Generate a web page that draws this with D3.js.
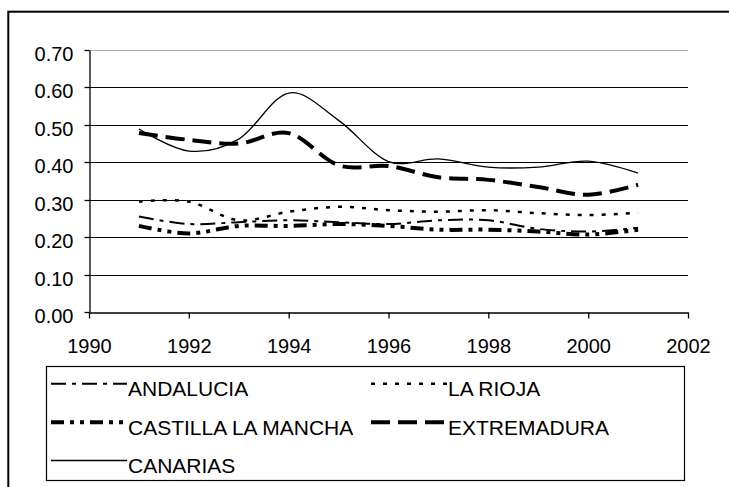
<!DOCTYPE html>
<html>
<head>
<meta charset="utf-8">
<script src="https://cdn.jsdelivr.net/npm/d3@7"></script>
<style>
  html, body { margin: 0; padding: 0; background: #fff; }
  svg { display: block; font-family: "Liberation Sans", Arial, sans-serif; }
</style>
</head>
<body>
<svg id="chart" width="729" height="487"></svg>
<script>
// ---- data ----
const years = [1991, 1992, 1993, 1994, 1995, 1996, 1997, 1998, 1999, 2000, 2001];
const andalucia = [0.255, 0.235, 0.240, 0.245, 0.240, 0.235, 0.245, 0.245, 0.222, 0.215, 0.225];
const laRioja = [0.295, 0.295, 0.245, 0.268, 0.281, 0.272, 0.268, 0.272, 0.264, 0.259, 0.265];
const castilla = [0.230, 0.210, 0.230, 0.230, 0.235, 0.230, 0.220, 0.220, 0.215, 0.207, 0.220];
const extremadura = [0.478, 0.460, 0.450, 0.478, 0.392, 0.390, 0.360, 0.353, 0.334, 0.313, 0.340];
const canarias = [0.489, 0.430, 0.462, 0.585, 0.512, 0.402, 0.409, 0.387, 0.387, 0.403, 0.371];
const seriesNames = ["ANDALUCIA", "LA RIOJA", "CASTILLA LA MANCHA", "EXTREMADURA", "CANARIAS"];
const xTicks = [1990, 1992, 1994, 1996, 1998, 2000, 2002];
const yTicks = [0, 0.1, 0.2, 0.3, 0.4, 0.5, 0.6, 0.7];

const styles = {
  "ANDALUCIA": { w: 2, dash: "15,6,4,6" },
  "LA RIOJA": { w: 2.5, dash: "4,8" },
  "CASTILLA LA MANCHA": { w: 4, dash: "13,6,4,6,4,6" },
  "EXTREMADURA": { w: 4, dash: "19,8" },
  "CANARIAS": { w: 1.3, dash: null }
};
const seriesValues = [andalucia, laRioja, castilla, extremadura, canarias];

const svg = d3.select("#chart");

// outer frame (extends beyond the window on right/bottom)
svg.append("rect").attr("x", 8.3).attr("y", 11.7).attr("width", 760).attr("height", 520)
  .attr("fill", "none").attr("stroke", "#000").attr("stroke-width", 2);

const x = d3.scaleLinear().domain([1990, 2002]).range([89, 688]);
const y = d3.scaleLinear().domain([0, 0.7]).range([312, 50]);

// gridlines
svg.append("g").selectAll("line").data(yTicks.filter(d => d > 0)).join("line")
  .attr("x1", 89).attr("x2", 688)
  .attr("y1", d => Math.round(y(d)) + 0.5).attr("y2", d => Math.round(y(d)) + 0.5)
  .attr("stroke", d => d >= 0.7 ? "#b0b0b0" : "#000").attr("stroke-width", 1.2);

// y axis
const yAxis = svg.append("g").attr("transform", "translate(89.5,0)")
  .call(d3.axisLeft(y).tickValues(yTicks).tickFormat(d3.format(".2f")).tickSize(5).tickPadding(11).tickSizeOuter(0));
yAxis.selectAll(".tick").attr("transform", d => `translate(0,${Math.round(y(d)) + 0.5})`);
yAxis.select(".domain").attr("stroke", "#000").attr("stroke-width", 1.3);
yAxis.selectAll(".tick line").attr("stroke", "#000").attr("stroke-width", 1.3);
yAxis.selectAll(".tick text").attr("font-size", 20).attr("font-family", "Liberation Sans, Arial, sans-serif")
  .attr("fill", "#000").attr("dy", "0.5em");

// x axis
const xAxis = svg.append("g").attr("transform", `translate(0,${Math.round(y(0)) + 0.5})`)
  .call(d3.axisBottom(x).tickValues(xTicks).tickFormat(d3.format("d")).tickSize(6).tickPadding(20).tickSizeOuter(0));
xAxis.select(".domain").attr("stroke", "#000").attr("stroke-width", 1.3);
xAxis.selectAll(".tick line").attr("stroke", "#000").attr("stroke-width", 1.3);
xAxis.selectAll(".tick text").attr("font-size", 20).attr("font-family", "Liberation Sans, Arial, sans-serif")
  .attr("fill", "#000");

// lines
const line = d3.line().x(d => x(d[0])).y(d => y(d[1])).curve(d3.curveCardinal.tension(0));
seriesNames.forEach((name, i) => {
  const pts = years.map((yr, j) => [yr, seriesValues[i][j]]);
  const st = styles[name];
  svg.append("path").datum(pts).attr("d", line)
    .attr("fill", "none").attr("stroke", "#000").attr("stroke-width", st.w)
    .attr("stroke-dasharray", st.dash);
});

// legend
svg.append("rect").attr("x", 46.5).attr("y", 366.5).attr("width", 638).attr("height", 114)
  .attr("fill", "#fff").attr("stroke", "#000").attr("stroke-width", 1.2);
const legendPos = [
  [50, 396.3], [370, 396.3],
  [50, 434.7], [370, 434.7],
  [50, 473]
];
seriesNames.forEach((name, i) => {
  const [lx, ly] = legendPos[i];
  const st = styles[name];
  svg.append("line").attr("x1", lx + 1).attr("x2", lx + 77)
    .attr("y1", ly - 12.5).attr("y2", ly - 12.5)
    .attr("stroke", "#000").attr("stroke-width", st.w).attr("stroke-dasharray", st.dash);
  svg.append("text").attr("x", lx + 78).attr("y", ly).attr("font-size", 21)
    .attr("fill", "#000").text(name);
});
</script>
</body>
</html>
